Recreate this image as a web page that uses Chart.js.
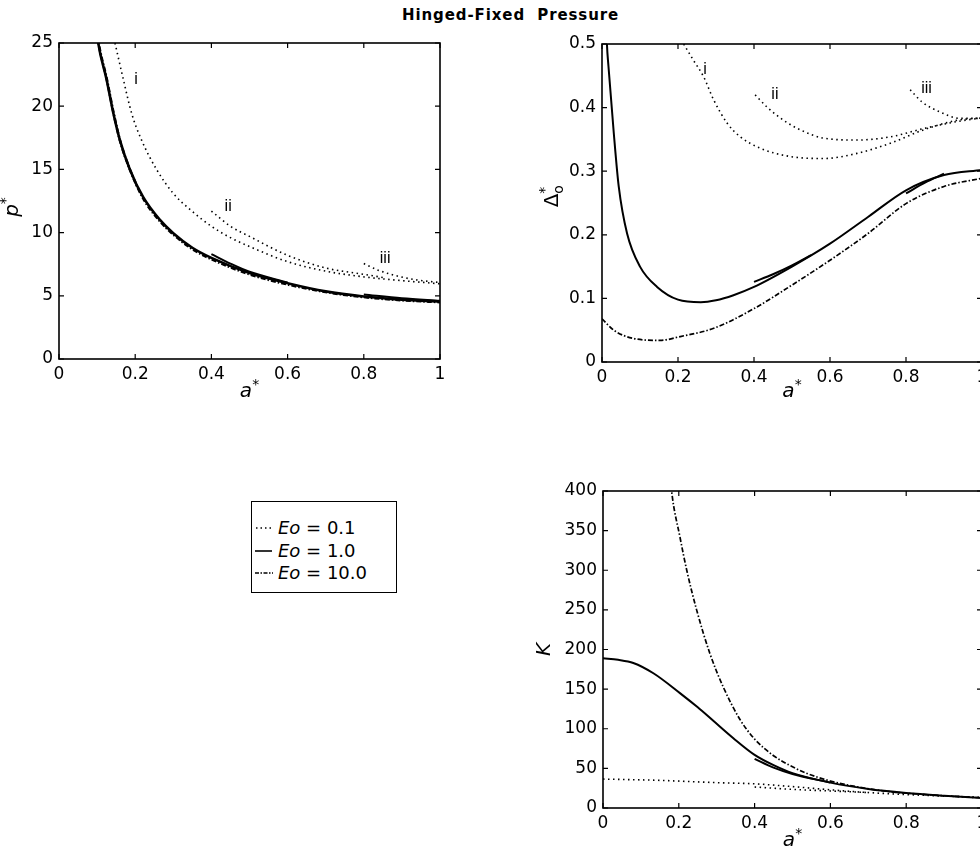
<!DOCTYPE html>
<html>
<head>
<meta charset="utf-8">
<script src="https://cdn.jsdelivr.net/npm/chart.js@4.4.1/dist/chart.umd.min.js"></script>
<style>
  body { margin: 0; width: 980px; height: 850px; overflow: hidden; background: #fff; position: relative; font-family: "DejaVu Sans", sans-serif; }
  canvas { position: absolute; }
  #title { position: absolute; left: 402px; top: 6px; font-weight: bold; font-size: 15px; letter-spacing: 0.9px; white-space: pre; }
  #legend { position: absolute; left: 251px; top: 501px; width: 146px; height: 92px; box-sizing: border-box; border: 1.5px solid #000; }
  #legend .row { position: absolute; left: 2px; height: 22px; line-height: 22px; font-size: 18px; white-space: pre; }
  #legend svg { position: absolute; left: 0; top: 6px; }
  #legend span { position: absolute; left: 24px; top: 0; }
</style>
</head>
<body>
<div id="title">Hinged-Fixed  Pressure</div>
<canvas id="cP" width="480" height="420" style="left:0;top:0"></canvas>
<canvas id="cD" width="560" height="420" style="left:480px;top:0"></canvas>
<canvas id="cK" width="560" height="430" style="left:480px;top:420px"></canvas>
<div id="legend">
  <div class="row" style="top:15px"><svg width="20" height="10"><line x1="2" y1="5" x2="18" y2="5" stroke="#000" stroke-width="1.5" stroke-dasharray="1.5 3"/></svg><span><i>Eo</i> = 0.1</span></div>
  <div class="row" style="top:38px"><svg width="20" height="10"><line x1="1" y1="5" x2="18" y2="5" stroke="#000" stroke-width="1.6"/></svg><span><i>Eo</i> = 1.0</span></div>
  <div class="row" style="top:60px"><svg width="20" height="10"><line x1="1" y1="5" x2="19" y2="5" stroke="#000" stroke-width="1.5" stroke-dasharray="4 1.5 1.5 1.5"/></svg><span><i>Eo</i> = 10.0</span></div>
</div>
<script>
// tick values
const ticksA = [0, 0.2, 0.4, 0.6, 0.8, 1];
const ticksP = [0, 5, 10, 15, 20, 25];
const ticksD = [0, 0.1, 0.2, 0.3, 0.4, 0.5];
const ticksK = [0, 50, 100, 150, 200, 250, 300, 350, 400];

// p* against a*
const pA01i = [0.147, 0.169, 0.191, 0.217, 0.256, 0.3, 0.345, 0.4, 0.45, 0.5, 0.6, 0.7, 0.8, 0.9, 1.0];
const pV01i = [25, 22.1, 19.4, 17.3, 15, 13.1, 11.8, 10.5, 9.6, 8.9, 7.7, 6.95, 6.5, 6.2, 5.95];
const pA01ii = [0.4, 0.45, 0.5, 0.6, 0.7, 0.8, 0.85];
const pV01ii = [11.7, 10.5, 9.7, 8.2, 7.2, 6.7, 6.45];
const pA01iii = [0.8, 0.84, 0.89, 0.94, 1.0];
const pV01iii = [7.55, 7.0, 6.55, 6.25, 6.05];
const pA1 = [0.095, 0.103, 0.125, 0.143, 0.16, 0.186, 0.221, 0.265, 0.3, 0.35, 0.4, 0.5, 0.6, 0.7, 0.8, 0.9, 1.0];
const pV1 = [27, 25, 22.1, 19.4, 17.3, 15, 12.8, 11.0, 9.95, 8.8, 8.0, 6.8, 6.0, 5.35, 4.95, 4.7, 4.55];
const pA1ii = [0.4, 0.45, 0.5, 0.6];
const pV1ii = [8.3, 7.55, 6.9, 6.05];
const pA1iii = [0.8, 0.9, 1.0];
const pV1iii = [5.1, 4.8, 4.6];
const pA10 = [0.095, 0.103, 0.125, 0.143, 0.16, 0.186, 0.221, 0.265, 0.3, 0.35, 0.4, 0.5, 0.6, 0.7, 0.8, 0.9, 1.0];
const pV10 = [27.2, 25.2, 22.2, 19.5, 17.3, 15, 12.7, 10.9, 9.85, 8.7, 7.9, 6.7, 5.9, 5.3, 4.9, 4.65, 4.5];

// Delta_o* against a*
const dA01i = [0.215, 0.24, 0.267, 0.294, 0.33, 0.364, 0.417, 0.496, 0.583, 0.671, 0.759, 0.846, 0.934, 1.0];
const dV01i = [0.5, 0.475, 0.449, 0.412, 0.375, 0.354, 0.336, 0.323, 0.32, 0.328, 0.344, 0.365, 0.38, 0.384];
const dA01ii = [0.403, 0.434, 0.478, 0.522, 0.583, 0.671, 0.759, 0.846, 0.934, 1.0];
const dV01ii = [0.42, 0.401, 0.38, 0.365, 0.352, 0.349, 0.354, 0.367, 0.378, 0.384];
const dA01iii = [0.811, 0.842, 0.89, 0.943, 1.0];
const dV01iii = [0.428, 0.409, 0.393, 0.383, 0.383];
const dA1 = [0.008, 0.013, 0.017, 0.031, 0.044, 0.066, 0.1, 0.145, 0.2, 0.26, 0.3, 0.346, 0.4, 0.5, 0.6, 0.7, 0.8, 0.9, 1.0];
const dV1 = [0.6, 0.5, 0.465, 0.36, 0.276, 0.202, 0.15, 0.118, 0.098, 0.094, 0.097, 0.105, 0.118, 0.15, 0.186, 0.228, 0.27, 0.294, 0.302];
const dA1ii = [0.4, 0.45, 0.5, 0.55];
const dV1ii = [0.126, 0.138, 0.152, 0.168];
const dA1iii = [0.8, 0.85, 0.9];
const dV1iii = [0.265, 0.282, 0.296];
const dA10 = [0, 0.031, 0.083, 0.153, 0.206, 0.294, 0.4, 0.5, 0.6, 0.7, 0.8, 0.9, 1.0];
const dV10 = [0.068, 0.05, 0.037, 0.034, 0.04, 0.053, 0.084, 0.121, 0.16, 0.202, 0.249, 0.276, 0.289];

// K against a*
const kA01 = [0, 0.14, 0.3, 0.4, 0.5, 0.6, 0.7, 0.8, 0.9, 1.0];
const kV01 = [36.5, 35, 32, 30.5, 27, 23, 19.5, 17, 15, 13.5];
const kA01b = [0.4, 0.5, 0.6, 0.7];
const kV01b = [26.5, 23.5, 21.5, 19.5];
const kA1 = [0, 0.04, 0.08, 0.133, 0.203, 0.25, 0.291, 0.344, 0.4, 0.45, 0.5, 0.6, 0.7, 0.8, 0.9, 1.0];
const kV1 = [189, 187, 183, 170, 145, 127, 110, 88, 67, 54, 44, 32, 24, 19, 15.5, 12.6];
const kA1b = [0.4, 0.45, 0.5, 0.6];
const kV1b = [62, 51, 43, 32];
const kA10 = [0.17, 0.181, 0.203, 0.221, 0.247, 0.282, 0.317, 0.361, 0.4, 0.45, 0.5, 0.536, 0.6, 0.668, 0.75, 0.85, 1.0];
const kV10 = [460, 400, 342, 300, 250, 195, 153, 112, 87, 66, 52, 44, 34, 27, 21, 17, 12.8];

const styles = {
  dot: { borderDash: [1.5, 3.5], borderWidth: 1.6 },
  solid: { borderDash: [], borderWidth: 2 },
  dashdot: { borderDash: [5, 2, 1.5, 2], borderWidth: 1.7 }
};

function line(xs, ys, style, width) {
  const ds = Object.assign({
    data: xs.map((x, i) => ({ x: x, y: ys[i] })),
    borderColor: '#000',
    pointRadius: 0,
    fill: false,
    cubicInterpolationMode: 'monotone'
  }, styles[style]);
  if (width) ds.borderWidth = width;
  return ds;
}

// writes a label made of pieces (sub/superscripts), centred at cx, cy
function drawPieces(ctx, pieces, cx, cy) {
  let w = 0;
  pieces.forEach(p => { ctx.font = p.font; p.w = ctx.measureText(p.t).width; if (!p.stay) w += p.w; });
  let x = cx - w / 2;
  pieces.forEach(p => {
    ctx.font = p.font;
    ctx.fillText(p.t, x, cy + (p.dy || 0));
    if (!p.stay) x += p.w;
  });
}

// box, inward ticks on all sides, axis titles and branch labels
const frame = {
  id: 'frame',
  afterDraw(chart, args, o) {
    const ctx = chart.ctx, a = chart.chartArea, xs = chart.scales.x, ys = chart.scales.y;
    ctx.save();
    ctx.strokeStyle = '#000';
    ctx.fillStyle = '#000';
    ctx.lineWidth = 1.6;
    ctx.strokeRect(a.left, a.top, a.right - a.left, a.bottom - a.top);
    ctx.lineWidth = 1.2;
    ctx.beginPath();
    xs.ticks.forEach(t => {
      const px = xs.getPixelForValue(t.value);
      ctx.moveTo(px, a.bottom); ctx.lineTo(px, a.bottom - 5);
      ctx.moveTo(px, a.top); ctx.lineTo(px, a.top + 5);
    });
    ys.ticks.forEach(t => {
      const py = ys.getPixelForValue(t.value);
      ctx.moveTo(a.left, py); ctx.lineTo(a.left + 5, py);
      ctx.moveTo(a.right, py); ctx.lineTo(a.right - 5, py);
    });
    ctx.stroke();

    ctx.textAlign = 'left';
    ctx.textBaseline = 'middle';
    drawPieces(ctx, o.xTitle, (a.left + a.right) / 2, a.bottom + o.xTitleGap);
    ctx.save();
    ctx.translate(a.left - o.yTitleGap, (a.top + a.bottom) / 2 + (o.yTitleShift || 0));
    ctx.rotate(-Math.PI / 2);
    drawPieces(ctx, o.yTitle, 0, 0);
    ctx.restore();

    ctx.textAlign = 'center';
    ctx.font = '16px "Liberation Sans"';
    (o.notes || []).forEach(n => {
      ctx.fillText(n.t, xs.getPixelForValue(n.x), ys.getPixelForValue(n.y));
    });
    ctx.restore();
  }
};

const tickFont = { family: 'DejaVu Sans', size: 17 };
const aTitle = [
  { t: 'a', font: 'italic 20px "DejaVu Sans"' },
  { t: '*', font: '14px "DejaVu Sans"', dy: -7 }
];

function options(yTicks, yMax, dims, frameOpts) {
  return {
    responsive: false,
    animation: false,
    devicePixelRatio: 1,
    layout: { padding: { top: dims.top, right: dims.right, left: 0, bottom: 0 } },
    plugins: { legend: { display: false }, tooltip: { enabled: false }, frame: frameOpts },
    scales: {
      x: {
        type: 'linear', min: 0, max: 1,
        grid: { display: false, drawTicks: false }, border: { display: false },
        ticks: { font: tickFont, color: '#000', padding: 5, maxRotation: 0, autoSkip: false, callback: v => String(v) },
        afterBuildTicks: s => { s.ticks = ticksA.map(v => ({ value: v })); },
        afterFit: s => { s.height = dims.xh; }
      },
      y: {
        type: 'linear', min: 0, max: yMax,
        grid: { display: false, drawTicks: false }, border: { display: false },
        ticks: { font: tickFont, color: '#000', padding: 6, autoSkip: false, callback: v => String(v) },
        afterBuildTicks: s => { s.ticks = yTicks.map(v => ({ value: v })); },
        afterFit: s => { s.width = dims.yw; }
      }
    }
  };
}

new Chart(document.getElementById('cP'), {
  type: 'line',
  data: { datasets: [
    line(pA01i, pV01i, 'dot'), line(pA01ii, pV01ii, 'dot'), line(pA01iii, pV01iii, 'dot'),
    line(pA10, pV10, 'dashdot', 2.6),
    line(pA1, pV1, 'solid', 2.6), line(pA1ii, pV1ii, 'solid'), line(pA1iii, pV1iii, 'solid')
  ] },
  options: options(ticksP, 25, { top: 43, right: 40, xh: 61, yw: 59 }, {
    xTitle: aTitle, xTitleGap: 33,
    yTitle: [{ t: 'p', font: 'italic 20px "DejaVu Sans"' }, { t: '*', font: '14px "DejaVu Sans"', dy: -7 }],
    yTitleGap: 46, yTitleShift: 6,
    notes: [{ t: 'i', x: 0.202, y: 22.1 }, { t: 'ii', x: 0.444, y: 12.05 }, { t: 'iii', x: 0.856, y: 7.97 }]
  }),
  plugins: [frame]
});

new Chart(document.getElementById('cD'), {
  type: 'line',
  data: { datasets: [
    line(dA01i, dV01i, 'dot'), line(dA01ii, dV01ii, 'dot'), line(dA01iii, dV01iii, 'dot'),
    line(dA10, dV10, 'dashdot'),
    line(dA1, dV1, 'solid'), line(dA1ii, dV1ii, 'solid'), line(dA1iii, dV1iii, 'solid')
  ] },
  options: options(ticksD, 0.5, { top: 44, right: 58, xh: 58, yw: 122 }, {
    xTitle: aTitle, xTitleGap: 30,
    yTitle: [
      { t: 'Δ', font: '20px "DejaVu Sans"' },
      { t: 'o', font: '14px "DejaVu Sans"', dy: 6, stay: true },
      { t: '*', font: '14px "DejaVu Sans"', dy: -8 }
    ],
    yTitleGap: 49, yTitleShift: -6,
    notes: [{ t: 'i', x: 0.271, y: 0.459 }, { t: 'ii', x: 0.455, y: 0.42 }, { t: 'iii', x: 0.854, y: 0.43 }]
  }),
  plugins: [frame]
});

new Chart(document.getElementById('cK'), {
  type: 'line',
  data: { datasets: [
    line(kA01, kV01, 'dot'), line(kA01b, kV01b, 'dot'),
    line(kA10, kV10, 'dashdot'),
    line(kA1, kV1, 'solid'), line(kA1b, kV1b, 'solid')
  ] },
  options: options(ticksK, 400, { top: 71, right: 58, xh: 42, yw: 123 }, {
    xTitle: aTitle, xTitleGap: 33,
    yTitle: [{ t: 'K', font: 'italic 20px "DejaVu Sans"' }],
    yTitleGap: 58
  }),
  plugins: [frame]
});
</script>
</body>
</html>
